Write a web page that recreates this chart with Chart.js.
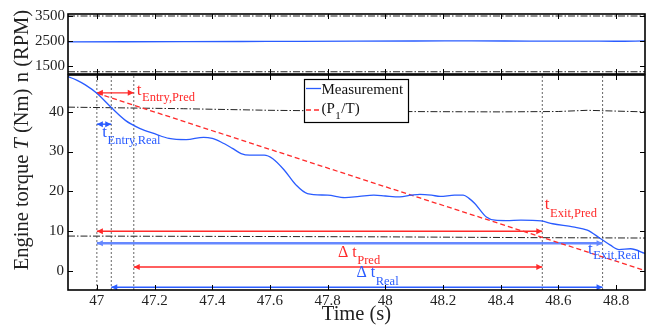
<!DOCTYPE html>
<html><head><meta charset="utf-8">
<script src="https://cdn.jsdelivr.net/npm/chart.js@4"></script>
<style>
html,body{margin:0;padding:0;background:#fff;width:654px;height:325px;overflow:hidden}
#wrap{position:relative;width:654px;height:325px}
#wrap canvas{position:absolute;left:0;top:0}
</style></head><body>
<div id="wrap"><canvas id="cBot" width="654" height="325"></canvas><canvas id="cTop" width="654" height="325"></canvas></div>
<script>
// ---------- data ----------
const timeTicks = [47, 47.2, 47.4, 47.6, 47.8, 48, 48.2, 48.4, 48.6, 48.8];
const torqueTicks = [0, 10, 20, 30, 40];
const speedTicks = [1500, 2500, 3500];

const measTime = [46.90,46.93,46.96,47.00,47.05,47.10,47.15,47.20,47.25,47.31,47.37,47.40,47.43,47.47,47.50,47.53,47.58,47.61,47.65,47.69,47.73,47.80,47.86,47.91,47.96,48.00,48.05,48.09,48.12,48.16,48.19,48.24,48.27,48.29,48.31,48.35,48.38,48.42,48.47,48.54,48.58,48.65,48.70,48.745,48.78,48.81,48.85,48.90];
const measTorque = [48.9,48.0,46.8,44.7,41.1,37.8,35.8,34.5,33.3,33.0,33.6,33.3,32.4,30.8,29.5,29.1,29.1,28.2,25.3,21.6,19.4,19.0,18.4,18.7,19.0,18.8,18.6,19.0,19.2,19.0,18.7,19.0,19.0,18.2,16.9,13.5,12.7,12.6,12.7,12.5,11.8,11.0,10.2,8.1,6.4,5.3,5.5,4.3];

const predTime = [47.0, 48.12, 48.9];
const predTorque = [44.7, 18.3, 0.0];

const upperThrTime = [46.9, 47.3, 47.6, 48.0, 48.4, 48.6, 48.7, 48.9];
const upperThrTorque = [41.2, 40.8, 40.4, 40.1, 40.0, 40.1, 40.4, 40.0];
const lowerThrTime = [46.9, 47.5, 48.0, 48.5, 48.9];
const lowerThrTorque = [8.7, 8.6, 8.5, 8.3, 8.2];

const speedTime = [46.9, 47.1, 47.3, 47.5, 47.7, 47.9, 48.1, 48.3, 48.5, 48.7, 48.8, 48.9];
const speedRpm = [2468, 2470, 2474, 2480, 2488, 2495, 2500, 2502, 2498, 2495, 2490, 2505];
const speedLimits = [3500, 1270];

const eventTimes = [47.0, 47.05, 47.128, 48.544, 48.753];
const arrowFrom  = [47.0, 47.0, 47.0, 47.0, 47.128, 47.05];
const arrowTo    = [47.128, 47.05, 48.544, 48.753, 48.544, 48.753];
const arrowLevel = [44.8, 36.9, 9.9, 6.9, 0.9, -4.2];
const arrowKind  = ['red', 'blue', 'red', 'lblue', 'red', 'blue'];

// ---------- style ----------
const SERIF = '"Liberation Serif","Times New Roman",serif';
const BLUE = '#2a5cff', RED = '#ff2a2a', LBLUE = '#6688ff';
const colorOf = k => k === 'red' ? RED : (k === 'lblue' ? LBLUE : BLUE);
const DASHDOT = [7, 2, 1.5, 2];
const TITLE = '20.5px ' + SERIF;

const pts = (xs, ys) => xs.map((t, i) => ({x: t, y: ys[i]}));
const fixTicks = arr => (s => { s.ticks = arr.map(v => ({value: v})); });

function frameAndTicks(chart, len) {
  const {ctx, chartArea: a, scales: {x, y}} = chart;
  ctx.save();
  ctx.strokeStyle = '#000'; ctx.lineWidth = 1;
  ctx.beginPath();
  x.ticks.forEach(t => {
    const px = Math.round(x.getPixelForValue(t.value)) + 0.5;
    ctx.moveTo(px, a.bottom); ctx.lineTo(px, a.bottom - len);
    ctx.moveTo(px, a.top); ctx.lineTo(px, a.top + len);
  });
  y.ticks.forEach(t => {
    const py = Math.round(y.getPixelForValue(t.value)) + 0.5;
    ctx.moveTo(a.left, py); ctx.lineTo(a.left + len, py);
    ctx.moveTo(a.right, py); ctx.lineTo(a.right - len, py);
  });
  ctx.stroke();
  ctx.lineWidth = 1.6;
  ctx.strokeRect(a.left, a.top, a.right - a.left, a.bottom - a.top);
  ctx.restore();
}

function vText(ctx, cx, cy, pieces) {
  ctx.save();
  ctx.translate(cx, cy);
  ctx.rotate(-Math.PI / 2);
  ctx.textBaseline = 'alphabetic';
  ctx.textAlign = 'left';
  let total = 0;
  pieces.forEach(p => { ctx.font = p.f; total += ctx.measureText(p.t).width; });
  let xx = -total / 2;
  pieces.forEach(p => { ctx.font = p.f; ctx.fillStyle = '#222'; ctx.fillText(p.t, xx, 0); xx += ctx.measureText(p.t).width; });
  ctx.restore();
}

function subText(ctx, x, y, pre, main, sub, color, mainSize, subSize, dy) {
  ctx.save();
  ctx.fillStyle = color; ctx.textBaseline = 'alphabetic'; ctx.textAlign = 'left';
  ctx.font = mainSize + 'px ' + SERIF;
  let xx = x;
  if (pre) { ctx.fillText(pre, xx, y); xx += ctx.measureText(pre).width; }
  ctx.fillText(main, xx, y); xx += ctx.measureText(main).width + 0.5;
  ctx.font = subSize + 'px ' + SERIF;
  ctx.fillText(sub, xx, y + dy);
  ctx.restore();
}

const bottomPlugin = {
  id: 'bottomDeco',
  afterDatasetsDraw(chart) {
    const {ctx, chartArea: a, scales: {x, y}} = chart;
    // arrow heads
    ctx.save();
    arrowFrom.forEach((f, i) => {
      const c = colorOf(arrowKind[i]);
      const py = y.getPixelForValue(arrowLevel[i]);
      const x1 = x.getPixelForValue(f), x2 = x.getPixelForValue(arrowTo[i]);
      ctx.fillStyle = c;
      [[x1, 1], [x2, -1]].forEach(([px, dir]) => {
        ctx.beginPath();
        ctx.moveTo(px, py);
        ctx.lineTo(px + dir * 6, py - 3);
        ctx.lineTo(px + dir * 6, py + 3);
        ctx.closePath(); ctx.fill();
      });
    });
    ctx.restore();

    // annotation labels
    const xe = v => x.getPixelForValue(v), ye = v => y.getPixelForValue(v);
    subText(ctx, xe(eventTimes[2]) + 3, ye(arrowLevel[0]) + 2.5, '', 't', 'Entry,Pred', RED, 17, 12.5, 6);
    subText(ctx, xe(eventTimes[0]) + 5.5, ye(arrowLevel[1]) + 12.5, '', 't', 'Entry,Real', BLUE, 17, 12.5, 7.5);
    subText(ctx, xe(eventTimes[3]) + 2.5, ye(arrowLevel[2]) - 22.5, '', 't', 'Exit,Pred', RED, 17, 12.5, 8);
    subText(ctx, xe(eventTimes[4]) - 14.5, ye(arrowLevel[3]) + 10.5, '', 't', 'Exit,Real', BLUE, 17, 12.5, 5.5);
    subText(ctx, 338, ye(arrowLevel[4]) - 9.5, '\u0394 ', 't', 'Pred', RED, 16, 12.5, 6.5);
    subText(ctx, 356.5, ye(arrowLevel[5]) - 10, '\u0394 ', 't', 'Real', BLUE, 16, 12.5, 7.5);

    // legend
    const lx = a.left + 236.5, ly = a.top + 4.5, lw = 104, lh = 43;
    ctx.save();
    ctx.fillStyle = '#fff'; ctx.fillRect(lx, ly, lw, lh);
    ctx.strokeStyle = '#000'; ctx.lineWidth = 1.2; ctx.strokeRect(lx, ly, lw, lh);
    ctx.lineWidth = 1.3;
    ctx.strokeStyle = BLUE; ctx.beginPath(); ctx.moveTo(lx + 1.5, ly + 9); ctx.lineTo(lx + 16.5, ly + 9); ctx.stroke();
    ctx.strokeStyle = RED; ctx.setLineDash([5, 3]); ctx.beginPath(); ctx.moveTo(lx + 1.5, ly + 30.5); ctx.lineTo(lx + 16.5, ly + 30.5); ctx.stroke();
    ctx.setLineDash([]);
    ctx.fillStyle = '#111'; ctx.font = '15px ' + SERIF; ctx.textBaseline = 'alphabetic';
    ctx.fillText('Measurement', lx + 17, ly + 14.5);
    let xx = lx + 17;
    ctx.fillText('(P', xx, ly + 33.5); xx += ctx.measureText('(P').width;
    ctx.font = '11px ' + SERIF; ctx.fillText('1', xx + 0.5, ly + 39); xx += ctx.measureText('1').width + 1;
    ctx.font = '15px ' + SERIF; ctx.fillText('/T)', xx, ly + 33.5);
    ctx.restore();
  },
  afterDraw(chart) {
    frameAndTicks(chart, 5);
    const {ctx, chartArea: a} = chart;
    // x title
    ctx.save();
    ctx.fillStyle = '#222'; ctx.font = TITLE; ctx.textAlign = 'center'; ctx.textBaseline = 'alphabetic';
    ctx.fillText('Time (s)', (a.left + a.right) / 2, 320);
    ctx.restore();
    // y title (torque)
    vText(ctx, 27.5, (a.top + a.bottom) / 2 - 3, [
      {t: 'Engine torque ', f: TITLE},
      {t: 'T', f: 'italic ' + TITLE},
      {t: ' (Nm)', f: TITLE}
    ]);
  }
};

const topPlugin = {
  id: 'topDeco',
  afterDraw(chart) {
    frameAndTicks(chart, 5);
    const {ctx, chartArea: a} = chart;
    vText(ctx, 27.5, (a.top + a.bottom) / 2 + 2, [
      {t: 'n (RPM)', f: TITLE}
    ]);
  }
};

const tickFont = {family: SERIF, size: 15};
const plainLabel = v => String(Math.round(v * 10) / 10);

// ---------- bottom (torque) chart ----------
const yMin = -4.9, yMax = 49.3;
const botDatasets = [
  {data: pts(measTime, measTorque), borderColor: BLUE, borderWidth: 1.3, cubicInterpolationMode: 'monotone'},
  {data: pts(predTime, predTorque), borderColor: RED, borderWidth: 1.3, borderDash: [5, 3]},
  {data: pts(upperThrTime, upperThrTorque), borderColor: '#222', borderWidth: 1, borderDash: DASHDOT},
  {data: pts(lowerThrTime, lowerThrTorque), borderColor: '#222', borderWidth: 1, borderDash: DASHDOT}
];
arrowFrom.forEach((f, i) => {
  const k = arrowKind[i];
  botDatasets.push({data: [{x: f, y: arrowLevel[i]}, {x: arrowTo[i], y: arrowLevel[i]}],
    borderColor: colorOf(k), borderWidth: k === 'lblue' ? 2.6 : 1.4});
});
eventTimes.forEach(t => {
  botDatasets.push({data: [{x: t, y: yMin}, {x: t, y: yMax}], borderColor: '#666', borderWidth: 1, borderDash: [2, 2]});
});

new Chart(document.getElementById('cBot'), {
  type: 'line',
  data: {datasets: botDatasets},
  options: {
    responsive: false, animation: false, devicePixelRatio: 1,
    layout: {padding: {left: 0, right: 9, top: 75, bottom: 0}},
    elements: {point: {radius: 0}, line: {tension: 0}},
    plugins: {legend: {display: false}, tooltip: {enabled: false}},
    scales: {
      x: {type: 'linear', min: 46.9, max: 48.9,
        afterBuildTicks: fixTicks(timeTicks),
        afterFit: s => { s.height = 35; },
        grid: {display: false, drawTicks: false}, border: {display: false},
        ticks: {font: tickFont, color: '#222', padding: 2, maxRotation: 0, autoSkip: false, callback: plainLabel}},
      y: {type: 'linear', min: yMin, max: yMax,
        afterBuildTicks: fixTicks(torqueTicks),
        afterFit: s => { s.width = 68; },
        grid: {display: false, drawTicks: false}, border: {display: false},
        ticks: {font: tickFont, color: '#222', padding: 4, callback: plainLabel}}
    }
  },
  plugins: [bottomPlugin]
});

// ---------- top (speed) chart ----------
new Chart(document.getElementById('cTop'), {
  type: 'line',
  data: {datasets: [
    {data: pts(speedTime, speedRpm), borderColor: BLUE, borderWidth: 1.3, cubicInterpolationMode: 'monotone'},
    {data: [{x: 46.9, y: speedLimits[0]}, {x: 48.9, y: speedLimits[0]}], borderColor: '#222', borderWidth: 1, borderDash: DASHDOT},
    {data: [{x: 46.9, y: speedLimits[1]}, {x: 48.9, y: speedLimits[1]}], borderColor: '#222', borderWidth: 1, borderDash: DASHDOT}
  ]},
  options: {
    responsive: false, animation: false, devicePixelRatio: 1,
    layout: {padding: {left: 0, right: 9, top: 14, bottom: 251}},
    elements: {point: {radius: 0}, line: {tension: 0}},
    plugins: {legend: {display: false}, tooltip: {enabled: false}},
    scales: {
      x: {type: 'linear', min: 46.9, max: 48.9,
        afterBuildTicks: fixTicks(timeTicks),
        afterFit: s => { s.height = 0; },
        grid: {display: false, drawTicks: false}, border: {display: false},
        ticks: {display: false}},
      y: {type: 'linear', min: 1180, max: 3580,
        afterBuildTicks: fixTicks(speedTicks),
        afterFit: s => { s.width = 68; },
        grid: {display: false, drawTicks: false}, border: {display: false},
        ticks: {font: tickFont, color: '#222', padding: 3, callback: v => String(v)}}
    }
  },
  plugins: [topPlugin]
});
</script>
</body></html>
